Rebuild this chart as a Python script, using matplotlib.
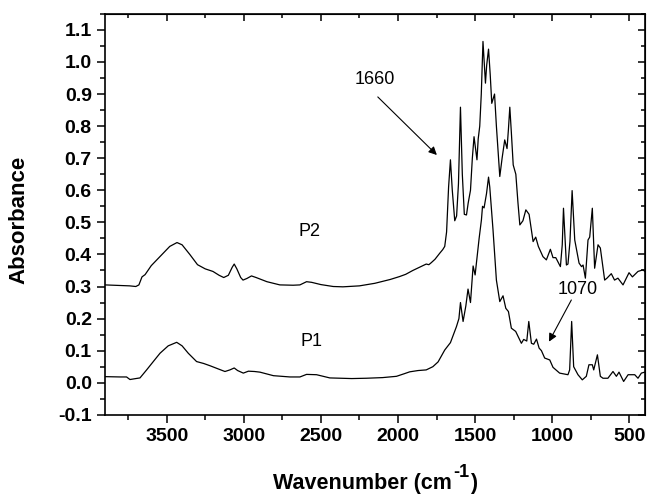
import matplotlib
matplotlib.use('Agg')
import matplotlib.pyplot as plt
from matplotlib.ticker import MultipleLocator

plt.rcParams['font.family'] = ['Liberation Sans', 'DejaVu Sans']

# P2 spectrum (upper curve)
wn_p2 = [3900, 3800, 3740, 3700, 3680, 3660, 3640, 3600, 3540, 3480, 3433, 3400,
         3350, 3300, 3250, 3200, 3160, 3130, 3100, 3075, 3062, 3045, 3020, 3005,
         2980, 2950, 2920, 2850, 2766, 2680, 2636, 2593, 2560, 2500, 2420, 2357,
         2250, 2150, 2050, 1990, 1950, 1904, 1860, 1817, 1800, 1785, 1760, 1729,
         1710, 1697, 1685, 1672, 1660, 1648, 1632, 1620, 1608, 1595, 1583, 1570,
         1556, 1545, 1530, 1518, 1507, 1488, 1480, 1470, 1460, 1449, 1440, 1433,
         1425, 1413, 1402, 1392, 1374, 1362, 1340, 1325, 1308, 1293, 1284, 1275,
         1265, 1253, 1236, 1222, 1210, 1190, 1171, 1150, 1124, 1107, 1090, 1060,
         1038, 1012, 995, 977, 947, 935, 927, 915, 908, 898, 885, 871, 854, 826,
         810, 800, 785, 768, 757, 740, 725, 703, 688, 660, 645, 617, 596, 574,
         541, 502, 480, 444, 411, 400]
abs_p2 = [0.305, 0.303, 0.302, 0.300, 0.305, 0.330, 0.337, 0.365, 0.395, 0.425, 0.437, 0.430,
          0.400, 0.368, 0.355, 0.347, 0.335, 0.328, 0.335, 0.360, 0.370, 0.355, 0.328, 0.320,
          0.325, 0.333, 0.328, 0.315, 0.305, 0.304, 0.305, 0.315, 0.313, 0.306, 0.300, 0.299,
          0.302, 0.310, 0.322, 0.331, 0.338, 0.350, 0.360, 0.370, 0.368, 0.374, 0.385, 0.404,
          0.415, 0.425, 0.470, 0.610, 0.695, 0.600, 0.505, 0.520, 0.620, 0.859, 0.650, 0.525,
          0.523, 0.560, 0.600, 0.700, 0.767, 0.695, 0.760, 0.800, 0.900, 1.064, 0.990, 0.934,
          0.990, 1.040, 0.960, 0.871, 0.900, 0.800, 0.643, 0.700, 0.757, 0.730, 0.790, 0.859,
          0.780, 0.679, 0.650, 0.560, 0.492, 0.505, 0.539, 0.525, 0.440, 0.454, 0.425, 0.393,
          0.383, 0.416, 0.390, 0.390, 0.362, 0.430, 0.544, 0.430, 0.367, 0.370, 0.440, 0.599,
          0.445, 0.373, 0.362, 0.367, 0.326, 0.445, 0.454, 0.544, 0.357, 0.430, 0.420, 0.320,
          0.326, 0.340, 0.320, 0.326, 0.305, 0.343, 0.330, 0.347, 0.352, 0.347]

# P1 spectrum (lower curve)
wn_p1 = [3900, 3800, 3760, 3738, 3700, 3673, 3630, 3580, 3543, 3490, 3435, 3400,
         3360, 3306, 3260, 3219, 3160, 3122, 3090, 3062, 3040, 3003, 2970, 2930,
         2895, 2808, 2700, 2636, 2593, 2528, 2442, 2300, 2205, 2100, 2010, 1960,
         1924, 1870, 1817, 1774, 1740, 1697, 1660, 1621, 1605, 1595, 1578, 1560,
         1546, 1530, 1513, 1500, 1474, 1459, 1452, 1442, 1426, 1413, 1405, 1384,
         1362, 1340, 1319, 1301, 1284, 1265, 1237, 1200, 1185, 1165, 1152, 1135,
         1120, 1102, 1085, 1070, 1049, 1016, 995, 952, 898, 887, 874, 861,
         833, 805, 779, 762, 740, 731, 707, 688, 671, 639, 606, 584,
         567, 537, 508, 465, 444, 422, 400]
abs_p1 = [0.019, 0.018, 0.018, 0.010, 0.013, 0.015, 0.040, 0.070, 0.092, 0.115, 0.126, 0.115,
          0.092, 0.066, 0.060, 0.053, 0.042, 0.035, 0.040, 0.046, 0.038, 0.030, 0.036, 0.035,
          0.033, 0.022, 0.018, 0.018, 0.026, 0.025, 0.015, 0.013, 0.014, 0.016, 0.020, 0.028,
          0.034, 0.038, 0.040, 0.050, 0.065, 0.102, 0.125, 0.175, 0.200, 0.250, 0.191, 0.240,
          0.292, 0.250, 0.364, 0.336, 0.450, 0.508, 0.550, 0.545, 0.590, 0.641, 0.610, 0.477,
          0.320, 0.253, 0.271, 0.232, 0.222, 0.170, 0.160, 0.123, 0.135, 0.130, 0.191, 0.123,
          0.120, 0.136, 0.108, 0.100, 0.077, 0.071, 0.048, 0.030, 0.025, 0.040, 0.191, 0.050,
          0.025, 0.009, 0.020, 0.056, 0.056, 0.040, 0.087, 0.020, 0.014, 0.014, 0.035, 0.020,
          0.033, 0.004, 0.025, 0.025, 0.014, 0.030, 0.033]

fig = plt.figure(figsize=(6.48, 4.95), dpi=100)
ax = fig.add_axes([0.162, 0.162, 0.833, 0.810])

ax.plot(wn_p2, abs_p2, color='black', lw=0.9)
ax.plot(wn_p1, abs_p1, color='black', lw=0.9)

ax.set_xlim(3900, 400)
ax.set_ylim(-0.1, 1.15)

ax.xaxis.set_major_locator(MultipleLocator(500))
ax.xaxis.set_minor_locator(MultipleLocator(250))
ax.yaxis.set_minor_locator(MultipleLocator(0.05))
ax.set_yticks([i / 10 for i in range(-1, 12)])
ax.set_yticklabels(['%.1f' % (i / 10) for i in range(-1, 12)])

ax.tick_params(which='major', direction='out', length=6, width=1.1, labelsize=14)
ax.tick_params(which='minor', direction='out', length=3.5, width=1.1)
for lab in ax.get_xticklabels() + ax.get_yticklabels():
    lab.set_fontweight('bold')
for sp in ax.spines.values():
    sp.set_linewidth(1.2)

# mirrored ticks on top and right, pointing inward
top = ax.secondary_xaxis('top')
top.xaxis.set_major_locator(MultipleLocator(500))
top.xaxis.set_minor_locator(MultipleLocator(250))
top.tick_params(which='major', direction='in', length=5, width=1.1, labeltop=False)
top.tick_params(which='minor', direction='in', length=3, width=1.1)
right = ax.secondary_yaxis('right')
right.yaxis.set_major_locator(MultipleLocator(0.1))
right.yaxis.set_minor_locator(MultipleLocator(0.05))
right.tick_params(which='major', direction='in', length=5, width=1.1, labelright=False)
right.tick_params(which='minor', direction='in', length=3, width=1.1)

ax.set_ylabel('Absorbance', fontsize=16, fontweight='bold')
ax.yaxis.set_label_coords(-0.14, 0.485)

# x label built in pieces so the superscript uses a plain hyphen
W, H = fig.get_size_inches() * fig.dpi
fig.canvas.draw()
r = fig.canvas.get_renderer()
x0 = 273
base = 6
t1 = fig.text(x0 / W, base / H, 'Wavenumber (cm', fontsize=15.5,
              fontweight='bold', ha='left', va='baseline')
x1 = t1.get_window_extent(r).x1
t2 = fig.text((x1 + 1) / W, (base + 12) / H, '-1', fontsize=13,
              fontweight='bold', ha='left', va='baseline')
x2 = t2.get_window_extent(r).x1
fig.text((x2 + 1) / W, base / H, ')', fontsize=15.5, fontweight='bold',
         ha='left', va='baseline')

ax.text(2571, 0.47, 'P2', fontsize=13, ha='center', va='center')
ax.text(2558, 0.127, 'P1', fontsize=13, ha='center', va='center')
ax.text(2150, 0.944, '1660', fontsize=13, ha='center', va='center')
ax.text(833, 0.29, '1070', fontsize=13, ha='center', va='center')
arrow = dict(arrowstyle='-|>', color='black', lw=0.8, mutation_scale=12,
             shrinkA=0, shrinkB=0)
ax.annotate('', xy=(1748, 0.71), xytext=(2131, 0.891), arrowprops=arrow)
ax.annotate('', xy=(1021, 0.128), xytext=(876, 0.258), arrowprops=arrow)

fig.savefig('out.png', dpi=100)
